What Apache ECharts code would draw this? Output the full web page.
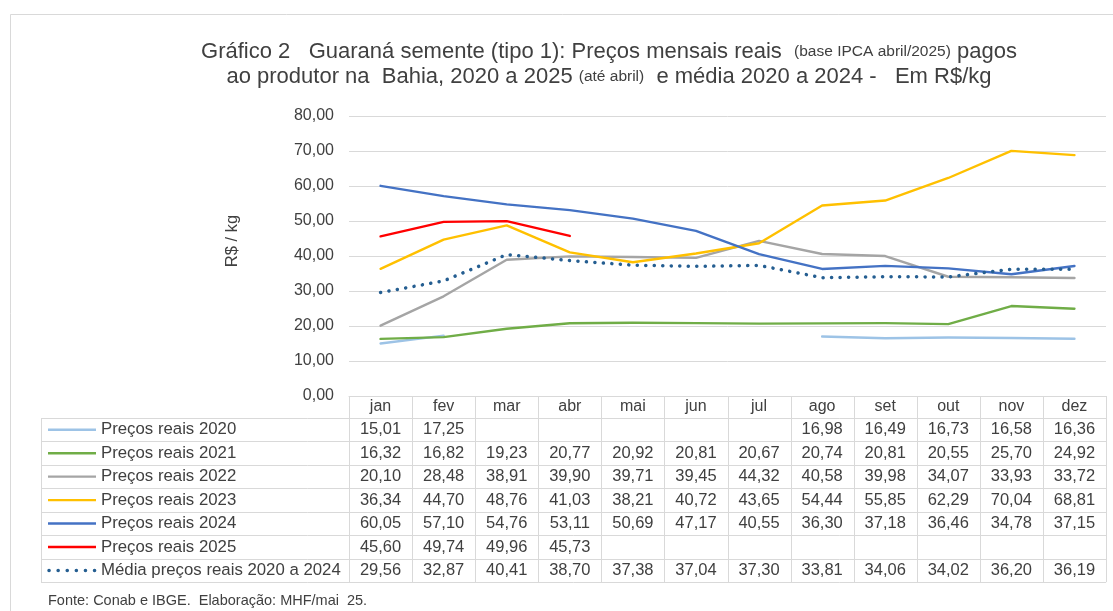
<!DOCTYPE html>
<html><head><meta charset="utf-8">
<script src="https://cdn.jsdelivr.net/npm/echarts@6/dist/echarts.min.js"></script>
<style>html,body{margin:0;padding:0;background:#fff}#c{width:1113px;height:611px}</style>
</head><body><div id="c"></div>
<script>
const months = ['jan','fev','mar','abr','mai','jun','jul','ago','set','out','nov','dez'];
const p2020 = [15.01,17.25,null,null,null,null,null,16.98,16.49,16.73,16.58,16.36];
const p2021 = [16.32,16.82,19.23,20.77,20.92,20.81,20.67,20.74,20.81,20.55,25.70,24.92];
const p2022 = [20.10,28.48,38.91,39.90,39.71,39.45,44.32,40.58,39.98,34.07,33.93,33.72];
const p2023 = [36.34,44.70,48.76,41.03,38.21,40.72,43.65,54.44,55.85,62.29,70.04,68.81];
const p2024 = [60.05,57.10,54.76,53.11,50.69,47.17,40.55,36.30,37.18,36.46,34.78,37.15];
const p2025 = [45.60,49.74,49.96,45.73,null,null,null,null,null,null,null,null];
const media = [29.56,32.87,40.41,38.70,37.38,37.04,37.30,33.81,34.06,34.02,36.20,36.19];
const seriesNames = ['Preços reais 2020','Preços reais 2021','Preços reais 2022','Preços reais 2023','Preços reais 2024','Preços reais 2025','Média preços reais 2020 a 2024'];
const seriesData = [p2020,p2021,p2022,p2023,p2024,p2025,media];
const yMin = 0, yMax = 80, yStep = 10;

const colors = ['#9DC3E6','#70AD47','#A5A5A5','#FFC000','#4472C4','#FF0000','#255E91'];
const FONT = 'Liberation Sans, Arial, sans-serif';
const TXT = '#404040';
const GL = 349, GR = 1106, GT = 116, GB = 396;
const W = 1113, H = 611;
const colW = (GR - GL) / 12;
const headerBottom = 418, rowH = 23.45, tableLeft = 41;
const lineCol = '#D9D9D9';

const fmt = v => v == null ? '' : v.toFixed(2).replace('.', ',');

const series = seriesData.map((d, i) => {
  const isMedia = i === 6;
  return {
    name: seriesNames[i], type: 'line', data: d, symbol: 'none',
    connectNulls: false, z: isMedia ? 10 : 2 + i,
    lineStyle: isMedia
      ? {color: colors[i], width: 3.5, type: [0.1, 8.4], cap: 'round'}
      : {color: colors[i], width: 2.4, cap: 'round', join: 'round'},
    itemStyle: {color: colors[i]},
    silent: true
  };
});

const g = [];
g.push({type: 'rect', shape: {x: 10.5, y: 14.5, width: 1200, height: 700}, style: {fill: 'none', stroke: '#D9D9D9', lineWidth: 1}, silent: true});
const titleRich = {a: {fontSize: 22, fontFamily: FONT, fill: TXT}, s: {fontSize: 15.5, fontFamily: FONT, fill: TXT}};
g.push({type: 'text', x: 609, y: 52, style: {
  text: '{a|Gráfico 2   Guaraná semente (tipo 1): Preços mensais reais  }{s|(base IPCA abril/2025)}{a| pagos}',
  align: 'center', verticalAlign: 'middle', rich: titleRich
}});
g.push({type: 'text', x: 609, y: 77, style: {
  text: '{a|ao produtor na  Bahia, 2020 a 2025 }{s|(até abril)}{a|  e média 2020 a 2024 -   Em R$/kg}',
  align: 'center', verticalAlign: 'middle', rich: titleRich
}});
// y axis title
g.push({type: 'text', x: 232, y: 241, rotation: Math.PI / 2, style: {text: 'R$ / kg', fontSize: 16.5, fontFamily: FONT, fill: TXT, align: 'center', verticalAlign: 'middle'}});
// footer
g.push({type: 'text', x: 48, y: 601, style: {text: 'Fonte: Conab e IBGE.  Elaboração: MHF/mai  25.', fontSize: 14.5, fontFamily: FONT, fill: TXT, verticalAlign: 'middle'}});
const tableBottom = headerBottom + rowH * 7;
for (let k = 0; k <= 12; k++) {
  const x = Math.round(GL + k * colW) + 0.5;
  g.push({type: 'line', shape: {x1: x, y1: GB, x2: x, y2: tableBottom}, style: {stroke: lineCol, lineWidth: 1}, silent: true});
}
g.push({type: 'line', shape: {x1: tableLeft + 0.5, y1: headerBottom, x2: tableLeft + 0.5, y2: tableBottom}, style: {stroke: lineCol, lineWidth: 1}, silent: true});
for (let r = 0; r <= 7; r++) {
  const y = Math.round(headerBottom + r * rowH) + 0.5;
  g.push({type: 'line', shape: {x1: tableLeft, y1: y, x2: GR, y2: y}, style: {stroke: lineCol, lineWidth: 1}, silent: true});
}
seriesData.forEach((d, i) => {
  const yc = headerBottom + (i + 0.5) * rowH;
  if (i === 6) {
    g.push({type: 'line', shape: {x1: 49, y1: yc, x2: 95, y2: yc}, style: {stroke: colors[i], lineWidth: 3.5, lineDash: [0.1, 9], lineCap: 'round'}, silent: true});
  } else {
    g.push({type: 'line', shape: {x1: 48, y1: yc, x2: 96, y2: yc}, style: {stroke: colors[i], lineWidth: 2.4}, silent: true});
  }
  g.push({type: 'text', x: 101, y: yc, style: {text: seriesNames[i], fontSize: 16.8, fontFamily: FONT, fill: TXT, verticalAlign: 'middle'}});
  d.forEach((v, j) => {
    if (v == null) return;
    g.push({type: 'text', x: GL + (j + 0.5) * colW, y: yc, style: {text: fmt(v), fontSize: 16.5, fontFamily: FONT, fill: TXT, align: 'center', verticalAlign: 'middle'}});
  });
});

const chart = echarts.init(document.getElementById('c'), null, {renderer: 'canvas'});
chart.setOption({
  animation: false,
  backgroundColor: '#fff',
  grid: {left: GL, right: W - GR, top: GT, bottom: H - GB, containLabel: false},
  xAxis: {
    type: 'category', data: months, boundaryGap: true,
    axisLine: {show: true, lineStyle: {color: lineCol}},
    axisTick: {show: false},
    axisLabel: {color: TXT, fontSize: 16, fontFamily: FONT, margin: 3}
  },
  yAxis: {
    type: 'value', min: yMin, max: yMax, interval: yStep,
    axisLine: {show: false}, axisTick: {show: false},
    axisLabel: {color: TXT, fontSize: 16, fontFamily: FONT, margin: 15, formatter: v => fmt(v)},
    splitLine: {lineStyle: {color: lineCol, width: 1}}
  },
  series: series,
  graphic: g
});
</script></body></html>
